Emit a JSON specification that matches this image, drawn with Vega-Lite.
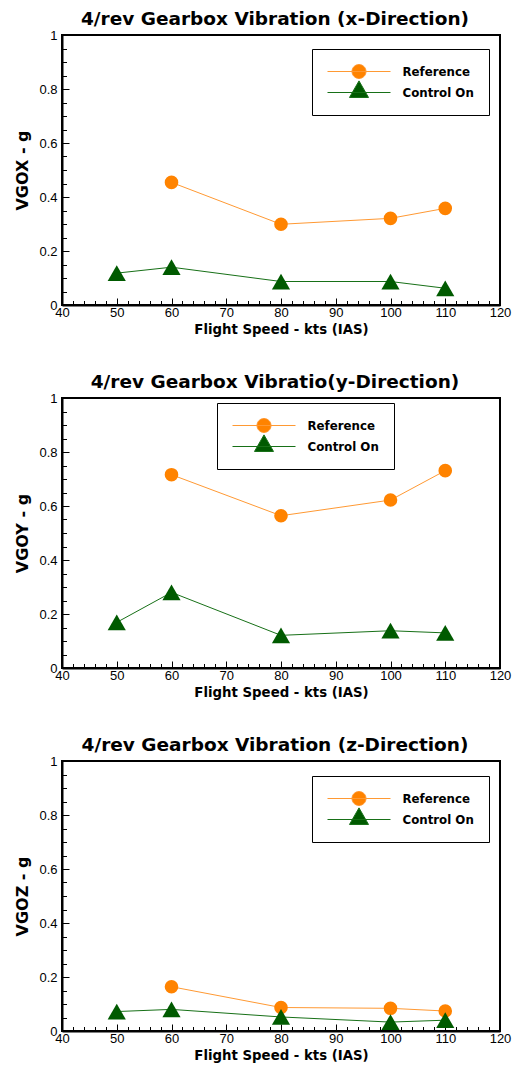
{
  "$schema": "https://vega.github.io/schema/vega-lite/v6.json",
  "padding": {"left": 13, "top": 8, "right": 2, "bottom": 2},
  "spacing": 34,
  "datasets": {
    "vib": [
      {"panel": "x", "series": "Reference", "speed": 60, "value": 0.454},
      {"panel": "x", "series": "Reference", "speed": 80, "value": 0.299},
      {"panel": "x", "series": "Reference", "speed": 100, "value": 0.321},
      {"panel": "x", "series": "Reference", "speed": 110, "value": 0.358},
      {"panel": "x", "series": "Control On", "speed": 50, "value": 0.118},
      {"panel": "x", "series": "Control On", "speed": 60, "value": 0.140},
      {"panel": "x", "series": "Control On", "speed": 80, "value": 0.087},
      {"panel": "x", "series": "Control On", "speed": 100, "value": 0.087},
      {"panel": "x", "series": "Control On", "speed": 110, "value": 0.062},
      {"panel": "y", "series": "Reference", "speed": 60, "value": 0.716},
      {"panel": "y", "series": "Reference", "speed": 80, "value": 0.564},
      {"panel": "y", "series": "Reference", "speed": 100, "value": 0.622},
      {"panel": "y", "series": "Reference", "speed": 110, "value": 0.731},
      {"panel": "y", "series": "Control On", "speed": 50, "value": 0.169},
      {"panel": "y", "series": "Control On", "speed": 60, "value": 0.280},
      {"panel": "y", "series": "Control On", "speed": 80, "value": 0.121},
      {"panel": "y", "series": "Control On", "speed": 100, "value": 0.138},
      {"panel": "y", "series": "Control On", "speed": 110, "value": 0.130},
      {"panel": "z", "series": "Reference", "speed": 60, "value": 0.164},
      {"panel": "z", "series": "Reference", "speed": 80, "value": 0.087},
      {"panel": "z", "series": "Reference", "speed": 100, "value": 0.084},
      {"panel": "z", "series": "Reference", "speed": 110, "value": 0.074},
      {"panel": "z", "series": "Control On", "speed": 50, "value": 0.072},
      {"panel": "z", "series": "Control On", "speed": 60, "value": 0.080},
      {"panel": "z", "series": "Control On", "speed": 80, "value": 0.052},
      {"panel": "z", "series": "Control On", "speed": 100, "value": 0.033},
      {"panel": "z", "series": "Control On", "speed": 110, "value": 0.040}
    ]
  },
  "vconcat": [
    {
      "title": {"text": "4/rev Gearbox Vibration (x-Direction)"},
      "width": 438, "height": 270,
      "data": {"name": "vib"},
      "transform": [{"filter": "datum.panel === 'x'"}],
      "encoding": {
        "x": {"field": "speed", "type": "quantitative", "scale": {"domain": [40, 120], "nice": false},
          "axis": {"title": "Flight Speed - kts (IAS)", "values": [40,42,44,46,48,50,52,54,56,58,60,62,64,66,68,70,72,74,76,78,80,82,84,86,88,90,92,94,96,98,100,102,104,106,108,110,112,114,116,118,120],
            "tickSize": {"condition": {"test": "datum.value % 10 === 0", "value": -7}, "value": -4.5},
            "labelExpr": "datum.value % 10 === 0 ? datum.label : ''", "labelPadding": 8.5, "titleFontSize": 13.3, "titlePadding": 0}},
        "y": {"field": "value", "type": "quantitative", "scale": {"domain": [0, 1], "nice": false},
          "axis": {"title": "VGOX - g", "values": [0,0.05,0.1,0.15,0.2,0.25,0.3,0.35,0.4,0.45,0.5,0.55,0.6,0.65,0.7,0.75,0.8,0.85,0.9,0.95,1],
            "tickSize": {"condition": {"test": "round(datum.value*20) % 4 === 0", "value": -7}, "value": -4.5},
            "labelExpr": "round(datum.value*20) % 4 === 0 ? format(datum.value, '~g') : ''", "labelPadding": 12, "titleFontSize": 16, "titlePadding": 8}}
      },
      "layer": [
        {"transform": [{"filter": "datum.series === 'Reference'"}], "mark": {"type": "line", "stroke": "#ff9933", "strokeWidth": 1}, "encoding": {}},
        {"transform": [{"filter": "datum.series === 'Control On'"}], "mark": {"type": "line", "stroke": "#177017", "strokeWidth": 1}, "encoding": {}},
        {"transform": [{"filter": "datum.series === 'Reference'"}], "mark": {"type": "point", "filled": true, "size": 185, "opacity": 1},
          "encoding": {
            "fill": {"field": "series", "type": "nominal", "scale": {"domain": ["Reference", "Control On"], "range": ["#ff8300", "#005a00"]},
              "legend": {"title": null, "orient": "none", "legendX": 250, "legendY": 14,
                "encode": {"symbols": {"update": {
                  "shape": {"signal": "datum.value === 'Reference' ? 'M-4.5,0H4.5M1,0A1,1,0,1,1,-1,0A1,1,0,1,1,1,0Z' : 'M-4.5,0H4.5M0,-1.66L1.36,0.71L-1.36,0.71Z'"},
                  "stroke": {"signal": "datum.value === 'Reference' ? '#ff9933' : '#177017'"},
                  "strokeWidth": {"value": 1}, "size": {"value": 196}, "opacity": {"value": 1}}}}}}
          }},
        {"transform": [{"filter": "datum.series === 'Control On'"}], "mark": {"type": "point", "filled": true, "shape": "triangle-up", "fill": "#005a00", "size": 330, "opacity": 1}}
      ]
    },
    {
      "title": {"text": "4/rev Gearbox Vibratio(y-Direction)"},
      "width": 438, "height": 270,
      "data": {"name": "vib"},
      "transform": [{"filter": "datum.panel === 'y'"}],
      "encoding": {
        "x": {"field": "speed", "type": "quantitative", "scale": {"domain": [40, 120], "nice": false},
          "axis": {"title": "Flight Speed - kts (IAS)", "values": [40,42,44,46,48,50,52,54,56,58,60,62,64,66,68,70,72,74,76,78,80,82,84,86,88,90,92,94,96,98,100,102,104,106,108,110,112,114,116,118,120],
            "tickSize": {"condition": {"test": "datum.value % 10 === 0", "value": -7}, "value": -4.5},
            "labelExpr": "datum.value % 10 === 0 ? datum.label : ''", "labelPadding": 8.5, "titleFontSize": 13.3, "titlePadding": 0}},
        "y": {"field": "value", "type": "quantitative", "scale": {"domain": [0, 1], "nice": false},
          "axis": {"title": "VGOY - g", "values": [0,0.05,0.1,0.15,0.2,0.25,0.3,0.35,0.4,0.45,0.5,0.55,0.6,0.65,0.7,0.75,0.8,0.85,0.9,0.95,1],
            "tickSize": {"condition": {"test": "round(datum.value*20) % 4 === 0", "value": -7}, "value": -4.5},
            "labelExpr": "round(datum.value*20) % 4 === 0 ? format(datum.value, '~g') : ''", "labelPadding": 12, "titleFontSize": 16, "titlePadding": 8}}
      },
      "layer": [
        {"transform": [{"filter": "datum.series === 'Reference'"}], "mark": {"type": "line", "stroke": "#ff9933", "strokeWidth": 1}, "encoding": {}},
        {"transform": [{"filter": "datum.series === 'Control On'"}], "mark": {"type": "line", "stroke": "#177017", "strokeWidth": 1}, "encoding": {}},
        {"transform": [{"filter": "datum.series === 'Reference'"}], "mark": {"type": "point", "filled": true, "size": 185, "opacity": 1},
          "encoding": {
            "fill": {"field": "series", "type": "nominal", "scale": {"domain": ["Reference", "Control On"], "range": ["#ff8300", "#005a00"]},
              "legend": {"title": null, "orient": "none", "legendX": 155, "legendY": 5,
                "encode": {"symbols": {"update": {
                  "shape": {"signal": "datum.value === 'Reference' ? 'M-4.5,0H4.5M1,0A1,1,0,1,1,-1,0A1,1,0,1,1,1,0Z' : 'M-4.5,0H4.5M0,-1.66L1.36,0.71L-1.36,0.71Z'"},
                  "stroke": {"signal": "datum.value === 'Reference' ? '#ff9933' : '#177017'"},
                  "strokeWidth": {"value": 1}, "size": {"value": 196}, "opacity": {"value": 1}}}}}}
          }},
        {"transform": [{"filter": "datum.series === 'Control On'"}], "mark": {"type": "point", "filled": true, "shape": "triangle-up", "fill": "#005a00", "size": 330, "opacity": 1}}
      ]
    },
    {
      "title": {"text": "4/rev Gearbox Vibration (z-Direction)"},
      "width": 438, "height": 270,
      "data": {"name": "vib"},
      "transform": [{"filter": "datum.panel === 'z'"}],
      "encoding": {
        "x": {"field": "speed", "type": "quantitative", "scale": {"domain": [40, 120], "nice": false},
          "axis": {"title": "Flight Speed - kts (IAS)", "values": [40,42,44,46,48,50,52,54,56,58,60,62,64,66,68,70,72,74,76,78,80,82,84,86,88,90,92,94,96,98,100,102,104,106,108,110,112,114,116,118,120],
            "tickSize": {"condition": {"test": "datum.value % 10 === 0", "value": -7}, "value": -4.5},
            "labelExpr": "datum.value % 10 === 0 ? datum.label : ''", "labelPadding": 8.5, "titleFontSize": 13.3, "titlePadding": 0}},
        "y": {"field": "value", "type": "quantitative", "scale": {"domain": [0, 1], "nice": false},
          "axis": {"title": "VGOZ - g", "values": [0,0.05,0.1,0.15,0.2,0.25,0.3,0.35,0.4,0.45,0.5,0.55,0.6,0.65,0.7,0.75,0.8,0.85,0.9,0.95,1],
            "tickSize": {"condition": {"test": "round(datum.value*20) % 4 === 0", "value": -7}, "value": -4.5},
            "labelExpr": "round(datum.value*20) % 4 === 0 ? format(datum.value, '~g') : ''", "labelPadding": 12, "titleFontSize": 16, "titlePadding": 8}}
      },
      "layer": [
        {"transform": [{"filter": "datum.series === 'Reference'"}], "mark": {"type": "line", "stroke": "#ff9933", "strokeWidth": 1}, "encoding": {}},
        {"transform": [{"filter": "datum.series === 'Control On'"}], "mark": {"type": "line", "stroke": "#177017", "strokeWidth": 1}, "encoding": {}},
        {"transform": [{"filter": "datum.series === 'Reference'"}], "mark": {"type": "point", "filled": true, "size": 185, "opacity": 1},
          "encoding": {
            "fill": {"field": "series", "type": "nominal", "scale": {"domain": ["Reference", "Control On"], "range": ["#ff8300", "#005a00"]},
              "legend": {"title": null, "orient": "none", "legendX": 250, "legendY": 15,
                "encode": {"symbols": {"update": {
                  "shape": {"signal": "datum.value === 'Reference' ? 'M-4.5,0H4.5M1,0A1,1,0,1,1,-1,0A1,1,0,1,1,1,0Z' : 'M-4.5,0H4.5M0,-1.66L1.36,0.71L-1.36,0.71Z'"},
                  "stroke": {"signal": "datum.value === 'Reference' ? '#ff9933' : '#177017'"},
                  "strokeWidth": {"value": 1}, "size": {"value": 196}, "opacity": {"value": 1}}}}}}
          }},
        {"transform": [{"filter": "datum.series === 'Control On'"}], "mark": {"type": "point", "filled": true, "shape": "triangle-up", "fill": "#005a00", "size": 330, "opacity": 1}}
      ]
    }
  ],
  "resolve": {
    "scale": {"fill": "independent"},
    "legend": {"fill": "independent"}
  },
  "config": {
    "font": "Liberation Sans",
    "view": {"stroke": "black", "strokeWidth": 2},
    "axis": {"domainColor": "black", "domainWidth": 2, "tickColor": "black", "tickWidth": 1, "labelColor": "black", "labelFont": "Liberation Sans", "labelFontSize": 13, "titleFont": "DejaVu Sans", "titleFontWeight": "bold", "titleColor": "black", "grid": false, "labelOverlap": false, "labelFlush": false},
    "legend": {"padding": 15, "fillColor": "white", "strokeColor": "black", "labelFont": "DejaVu Sans", "labelFontWeight": "bold", "labelFontSize": 11.8, "labelColor": "black", "symbolSize": 196, "symbolOffset": 24.5, "labelOffset": 36, "rowPadding": -3, "symbolOpacity": 1},
    "title": {"font": "DejaVu Sans", "fontSize": 18.5, "fontWeight": "bold", "color": "black", "offset": 1, "dx": -6}
  }
}
